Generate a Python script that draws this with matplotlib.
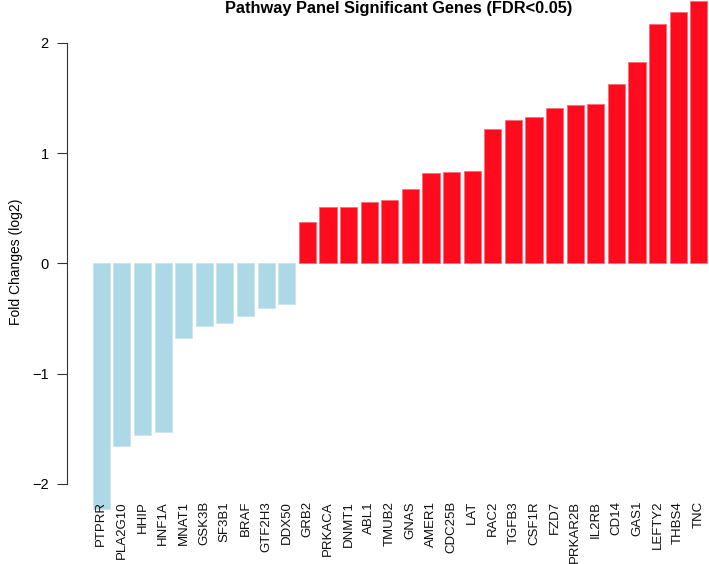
import matplotlib
matplotlib.use("Agg")
import matplotlib.pyplot as plt
import numpy as np

plt.rcParams['font.family'] = ['Liberation Sans', 'DejaVu Sans']

genes = ["PTPRR", "PLA2G10", "HHIP", "HNF1A", "MNAT1", "GSK3B", "SF3B1", "BRAF",
         "GTF2H3", "DDX50", "GRB2", "PRKACA", "DNMT1", "ABL1", "TMUB2", "GNAS",
         "AMER1", "CDC25B", "LAT", "RAC2", "TGFB3", "CSF1R", "FZD7", "PRKAR2B",
         "IL2RB", "CD14", "GAS1", "LEFTY2", "THBS4", "TNC"]
fold_change = [-2.23, -1.656, -1.56, -1.527, -0.674, -0.565, -0.538, -0.48,
               -0.408, -0.372, 0.377, 0.51, 0.513, 0.553, 0.571, 0.674,
               0.822, 0.825, 0.84, 1.215, 1.302, 1.323, 1.408, 1.435,
               1.44, 1.623, 1.825, 2.172, 2.278, 2.375]
yticks = [-2, -1, 0, 1, 2]

W, H = 709, 564
fig = plt.figure(figsize=(W / 100, H / 100), dpi=100)

# axes geometry in pixels (R barplot style, right side cropped)
xl, xr = -1.314, 37.648
yb, yt = -2.414, 2.559
px_x = 17.17
px_y = 110.3
left_px = 66.7
zero_px = 263.3
width_px = (xr - xl) * px_x
top_px = zero_px - yt * px_y
bottom_px = zero_px - yb * px_y
ax = fig.add_axes([left_px / W, 1 - bottom_px / H, width_px / W, (bottom_px - top_px) / H])
ax.set_xlim(xl, xr)
ax.set_ylim(yb, yt)

vals = np.array(fold_change)
x = 0.2 + 1.2 * np.arange(len(vals)) + 0.5
colors = ['#ADD8E6' if v < 0 else '#FE0C1E' for v in vals]
edges = ['#C8E4EE' if v < 0 else '#FF6B78' for v in vals]
ax.bar(x, vals, width=1.0, color=colors, edgecolor=edges, linewidth=0.6)

for xi, g in zip(x, genes):
    ax.text(xi, -2.155, g, rotation=90, ha='center', va='top', fontsize=9.5,
            color='#111111', clip_on=False)

for s in ['top', 'right', 'bottom']:
    ax.spines[s].set_visible(False)
ax.spines['left'].set_bounds(-2, 2)
ax.spines['left'].set_color('#333333')
ax.set_xticks([])
ax.set_yticks(yticks)
ax.set_yticklabels([str(t).replace('-', '\u2212') for t in yticks], fontsize=10.5)
ax.tick_params(axis='y', length=7, width=0.8, pad=6, color='#333333')

fig.text(16 / W, 1 - 262 / H, "Fold Changes (log2)", rotation=90,
         ha='center', va='center', fontsize=10)
fig.text(399 / W, 1 - 12.5 / H, "Pathway Panel Significant Genes (FDR<0.05)",
         ha='center', va='baseline', fontsize=11.8, fontweight='bold')

fig.savefig("out.png", dpi=100)
